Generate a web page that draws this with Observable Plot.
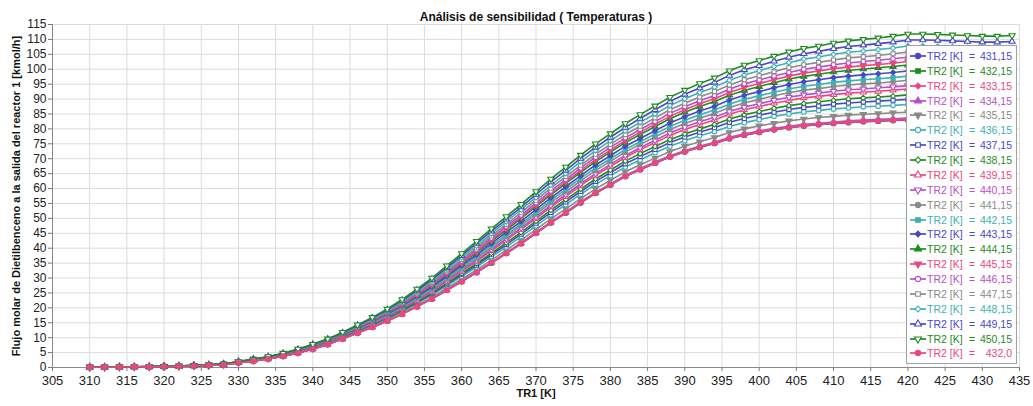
<!DOCTYPE html>
<html><head><meta charset="utf-8">
<script src="https://cdn.jsdelivr.net/npm/d3@7"></script>
<script src="https://cdn.jsdelivr.net/npm/@observablehq/plot@0.6"></script>
<style>
body{margin:0;background:#fff;font-family:"Liberation Sans",Arial,sans-serif;}
#wrap{position:relative;width:1033px;height:406px;overflow:hidden;}
#legend{position:absolute;left:906px;top:45px;width:111px;height:319px;border:1px solid #a0a0a0;background:#fff;box-sizing:border-box;}
.row{position:absolute;left:0;width:109px;height:14px;font-size:10.5px;line-height:14px;white-space:nowrap;}
.row svg{position:absolute;left:2px;top:1px;}
.row .k{position:absolute;left:20px;}
.row .eq{position:absolute;left:62px;}
.row .v{position:absolute;right:4px;}
</style></head><body><div id="wrap"></div>
<script>
const title = "Análisis de sensibilidad ( Temperaturas )";
const xLabel = "TR1 [K]";
const yLabel = "Flujo molar de Dietilbenceno a la salida del reactor 1 [kmol/h]";
const xTicks = [305,310,315,320,325,330,335,340,345,350,355,360,365,370,375,380,385,390,395,400,405,410,415,420,425,430,435];
const yTicks = [0,5,10,15,20,25,30,35,40,45,50,55,60,65,70,75,80,85,90,95,100,105,110,115];

const tr1 = [310,312,314,316,318,320,322,324,326,328,330,332,334,336,338,340,342,344,346,348,350,352,354,356,358,360,362,364,366,368,370,372,374,376,378,380,382,384,386,388,390,392,394,396,398,400,402,404,406,408,410,412,414,416,418,420,422,424,426,428,430,432,434];

const legendLabels = ["431,15","432,15","433,15","434,15","435,15","436,15","437,15","438,15","439,15","440,15","441,15","442,15","443,15","444,15","445,15","446,15","447,15","448,15","449,15","450,15","432,0"];

const s431_15 = [0.1,0.1,0.15,0.2,0.2,0.3,0.4,0.55,0.7,0.9, 1.6,2.2,2.9,3.8,4.9,6.2,7.7,9.6,11.6,13.5,15.6,17.9,20.4,23.0,25.9,28.8,31.8,35.0,38.2,41.5,45.0,48.5,51.8,55.2,58.4,61.2,64.0,66.3,68.5,70.6,72.3,73.8,75.1,76.7,77.9,78.8,79.7,80.4,81.0,81.4,81.8,82.1,82.4,82.6,82.8,83.0,83.0,82.9,82.8,82.7,82.6,82.5,82.4];
const s432_15 = [0.1,0.1,0.15,0.2,0.2,0.3,0.4,0.55,0.7,0.9, 1.6,2.2,2.9,3.8,4.9,6.2,7.7,9.6,11.6,13.5,15.6,17.9,20.4,23.0,25.9,28.8,31.9,35.1,38.3,41.6,45.1,48.6,51.9,55.3,58.5,61.3,64.1,66.4,68.6,70.7,72.4,73.9,75.2,76.8,78.0,78.9,79.8,80.5,81.1,81.5,81.9,82.2,82.5,82.7,82.9,83.1,83.1,83.0,82.9,82.8,82.7,82.6,82.5];
const s433_15 = [0.1,0.1,0.15,0.2,0.2,0.3,0.4,0.55,0.7,0.9, 1.6,2.2,2.9,3.8,4.9,6.2,7.7,9.6,11.6,13.5,15.6,18.0,20.5,23.1,26.0,28.9,31.9,35.1,38.3,41.6,45.1,48.6,52.0,55.4,58.6,61.4,64.2,66.5,68.7,70.8,72.5,74.0,75.3,76.9,78.1,79.0,79.9,80.7,81.3,81.7,82.1,82.4,82.7,82.9,83.1,83.3,83.3,83.2,83.1,83.0,82.9,82.8,82.7];
const s434_15 = [0.1,0.1,0.15,0.2,0.2,0.3,0.4,0.55,0.7,0.9, 1.6,2.2,2.9,3.8,4.9,6.2,7.7,9.6,11.7,13.6,15.7,18.0,20.5,23.1,26.1,29.0,32.0,35.2,38.4,41.8,45.3,48.8,52.1,55.5,58.7,61.5,64.4,66.7,68.9,71.0,72.7,74.2,75.5,77.2,78.4,79.3,80.2,80.9,81.5,81.9,82.3,82.7,83.0,83.2,83.4,83.6,83.6,83.5,83.4,83.3,83.2,83.1,83.0];
const s435_15 = [0.1,0.1,0.15,0.2,0.2,0.3,0.4,0.55,0.7,0.9, 1.6,2.3,3.0,3.9,5.0,6.3,7.9,9.8,11.8,13.8,16.0,18.3,20.9,23.6,26.6,29.6,32.7,36.0,39.3,42.7,46.3,49.8,53.2,56.6,59.9,62.8,65.6,68.0,70.2,72.4,74.2,75.7,77.1,78.8,80.0,81.0,81.9,82.7,83.3,83.8,84.2,84.6,84.9,85.1,85.4,85.6,85.6,85.5,85.4,85.3,85.2,85.1,85.0];
const s436_15 = [0.1,0.1,0.15,0.2,0.2,0.3,0.4,0.55,0.7,0.9, 1.7,2.3,3.0,4.0,5.1,6.5,8.0,10.0,12.1,14.1,16.3,18.8,21.5,24.3,27.4,30.5,33.7,37.1,40.4,43.9,47.5,51.2,54.6,58.1,61.4,64.3,67.2,69.6,72.0,74.2,76.0,77.7,79.1,80.8,82.1,83.1,84.2,85.0,85.7,86.2,86.7,87.0,87.4,87.6,87.9,88.2,88.2,88.1,88.0,87.9,87.7,87.7,87.6];
const s437_15 = [0.1,0.1,0.15,0.2,0.2,0.3,0.4,0.55,0.7,0.9, 1.7,2.3,3.1,4.0,5.2,6.6,8.2,10.1,12.3,14.3,16.6,19.1,21.8,24.7,27.9,31.1,34.3,37.8,41.2,44.7,48.4,52.0,55.5,59.0,62.4,65.3,68.3,70.7,73.1,75.4,77.3,78.9,80.4,82.2,83.5,84.6,85.6,86.5,87.2,87.7,88.3,88.7,89.0,89.3,89.6,89.9,89.9,89.8,89.7,89.6,89.4,89.4,89.3];
const s438_15 = [0.1,0.1,0.15,0.2,0.2,0.3,0.4,0.55,0.7,0.9, 1.7,2.4,3.1,4.1,5.3,6.7,8.3,10.2,12.4,14.5,16.8,19.3,22.1,25.0,28.3,31.5,34.8,38.3,41.8,45.3,49.1,52.8,56.3,59.8,63.2,66.2,69.2,71.7,74.1,76.4,78.3,80.0,81.5,83.3,84.7,85.8,86.9,87.8,88.5,89.1,89.6,90.1,90.4,90.7,91.0,91.4,91.4,91.3,91.1,91.0,90.9,90.8,90.8];
const s439_15 = [0.1,0.15,0.2,0.2,0.25,0.35,0.45,0.6,0.8,1.05, 1.7,2.4,3.2,4.2,5.4,6.8,8.4,10.4,12.6,14.7,17.0,19.7,22.5,25.5,28.9,32.2,35.6,39.1,42.7,46.3,50.0,53.8,57.3,61.0,64.4,67.4,70.4,73.0,75.4,77.8,79.8,81.5,83.0,84.9,86.4,87.5,88.6,89.5,90.4,90.9,91.5,92.0,92.3,92.6,93.0,93.4,93.4,93.3,93.1,93.0,92.9,92.8,92.8];
const s440_15 = [0.1,0.15,0.2,0.2,0.25,0.35,0.45,0.6,0.8,1.05, 1.8,2.4,3.2,4.2,5.4,6.8,8.5,10.5,12.7,14.8,17.2,19.9,22.8,25.8,29.2,32.6,36.0,39.6,43.2,46.8,50.6,54.4,58.0,61.6,65.0,68.1,71.1,73.7,76.2,78.6,80.6,82.4,83.9,85.8,87.3,88.4,89.6,90.6,91.4,92.0,92.6,93.1,93.4,93.8,94.1,94.5,94.5,94.4,94.3,94.1,94.0,93.9,94.0];
const s441_15 = [0.1,0.15,0.2,0.2,0.25,0.35,0.45,0.6,0.8,1.05, 1.8,2.5,3.3,4.3,5.5,6.9,8.6,10.6,12.8,15.0,17.4,20.2,23.1,26.2,29.7,33.1,36.6,40.3,43.9,47.6,51.4,55.3,58.9,62.6,66.0,69.1,72.2,74.8,77.3,79.8,81.8,83.6,85.2,87.2,88.7,89.9,91.1,92.1,93.0,93.5,94.2,94.7,95.1,95.4,95.8,96.3,96.3,96.2,96.0,95.9,95.7,95.7,95.7];
const s442_15 = [0.1,0.15,0.2,0.2,0.25,0.35,0.45,0.6,0.8,1.05, 1.8,2.5,3.3,4.3,5.6,7.0,8.7,10.7,13.0,15.2,17.6,20.4,23.4,26.6,30.1,33.6,37.2,40.9,44.5,48.2,52.1,56.0,59.7,63.4,66.9,70.0,73.1,75.7,78.3,80.8,82.9,84.7,86.3,88.3,89.9,91.1,92.3,93.4,94.3,94.9,95.6,96.1,96.5,96.8,97.2,97.7,97.7,97.6,97.4,97.3,97.1,97.1,97.1];
const s443_15 = [0.1,0.15,0.2,0.2,0.25,0.35,0.45,0.6,0.8,1.05, 1.8,2.5,3.4,4.4,5.6,7.1,8.8,10.9,13.1,15.4,17.9,20.7,23.8,27.0,30.6,34.2,37.8,41.6,45.3,49.0,53.0,56.9,60.6,64.3,67.9,71.0,74.2,76.8,79.4,82.0,84.1,86.0,87.6,89.7,91.3,92.5,93.8,94.9,95.8,96.5,97.2,97.7,98.1,98.5,98.9,99.4,99.4,99.3,99.2,99.0,98.8,98.8,98.9];
const s444_15 = [0.1,0.15,0.2,0.2,0.25,0.35,0.45,0.6,0.8,1.05, 1.9,2.6,3.4,4.4,5.7,7.2,8.9,11.0,13.3,15.6,18.2,21.0,24.2,27.5,31.2,34.8,38.5,42.4,46.1,50.0,54.0,57.9,61.7,65.4,69.0,72.2,75.4,78.1,80.8,83.4,85.6,87.5,89.2,91.3,92.9,94.2,95.5,96.7,97.6,98.3,99.1,99.6,100.1,100.5,100.9,101.4,101.4,101.3,101.2,101.0,100.8,100.8,100.9];
const s445_15 = [0.1,0.15,0.2,0.2,0.25,0.35,0.45,0.6,0.8,1.05, 1.9,2.6,3.4,4.5,5.8,7.3,9.0,11.1,13.4,15.7,18.3,21.2,24.4,27.8,31.5,35.2,38.9,42.8,46.6,50.5,54.5,58.5,62.3,66.1,69.7,72.9,76.1,78.9,81.6,84.2,86.4,88.4,90.1,92.2,93.9,95.2,96.5,97.7,98.7,99.4,100.2,100.7,101.2,101.6,102.0,102.6,102.6,102.5,102.3,102.1,102.0,102.0,102.1];
const s446_15 = [0.1,0.15,0.2,0.25,0.3,0.4,0.5,0.7,0.9,1.2, 1.9,2.6,3.5,4.5,5.9,7.4,9.1,11.2,13.6,15.9,18.5,21.5,24.7,28.1,31.9,35.7,39.5,43.4,47.3,51.1,55.2,59.2,63.0,66.9,70.5,73.8,77.0,79.8,82.5,85.2,87.4,89.4,91.2,93.3,95.1,96.4,97.7,98.9,100.0,100.7,101.5,102.1,102.6,103.0,103.5,104.0,104.0,103.9,103.8,103.6,103.4,103.4,103.5];
const s447_15 = [0.1,0.15,0.2,0.25,0.3,0.4,0.5,0.7,0.9,1.2, 1.9,2.7,3.5,4.6,5.9,7.5,9.2,11.3,13.7,16.1,18.8,21.8,25.1,28.5,32.4,36.2,40.1,44.1,48.0,51.9,56.1,60.1,64.0,67.8,71.5,74.8,78.1,80.9,83.7,86.4,88.6,90.7,92.5,94.7,96.5,97.8,99.2,100.5,101.5,102.3,103.1,103.8,104.2,104.6,105.2,105.8,105.8,105.7,105.5,105.3,105.1,105.1,105.2];
const s448_15 = [0.1,0.15,0.2,0.25,0.3,0.4,0.5,0.7,0.9,1.2, 1.9,2.7,3.6,4.7,6.0,7.6,9.3,11.5,13.9,16.3,19.0,22.1,25.5,29.0,33.0,36.9,40.8,44.9,48.9,52.9,57.0,61.1,65.0,69.0,72.7,76.0,79.3,82.2,85.0,87.8,90.1,92.2,94.0,96.3,98.1,99.5,100.9,102.2,103.4,104.1,105.0,105.7,106.1,106.6,107.1,107.8,107.8,107.7,107.5,107.3,107.1,107.1,107.3];
const s449_15 = [0.1,0.15,0.2,0.25,0.3,0.4,0.5,0.7,0.9,1.2, 2.0,2.8,3.6,4.7,6.1,7.7,9.5,11.6,14.1,16.6,19.3,22.5,25.9,29.5,33.5,37.5,41.6,45.7,49.7,53.8,58.0,62.2,66.1,70.1,73.8,77.2,80.5,83.5,86.4,89.2,91.6,93.7,95.6,97.9,99.8,101.2,102.7,104.0,105.2,106.0,106.9,107.6,108.1,108.6,109.1,109.8,109.8,109.7,109.5,109.3,109.1,109.1,109.3];
const s450_15 = [0.1,0.15,0.2,0.25,0.3,0.4,0.5,0.7,0.9,1.2, 2.0,2.8,3.7,4.8,6.2,7.8,9.6,11.8,14.3,16.8,19.6,22.8,26.3,30.0,34.1,38.2,42.3,46.5,50.6,54.7,59.0,63.2,67.2,71.2,75.0,78.4,81.8,84.8,87.7,90.6,93.0,95.2,97.1,99.5,101.4,102.9,104.4,105.8,107.0,107.8,108.8,109.5,110.0,110.5,111.1,111.8,111.8,111.7,111.5,111.3,111.1,111.1,111.3];
const s432_0 = [0.1,0.1,0.15,0.2,0.2,0.3,0.4,0.55,0.7,0.9, 1.6,2.2,2.9,3.8,4.9,6.2,7.7,9.6,11.6,13.5,15.6,17.9,20.4,23.0,25.9,28.8,31.9,35.1,38.3,41.6,45.1,48.6,51.9,55.3,58.5,61.3,64.1,66.4,68.6,70.7,72.4,73.9,75.2,76.8,78.0,78.9,79.8,80.5,81.1,81.5,81.9,82.2,82.5,82.7,82.9,83.1,83.1,83.0,82.9,82.8,82.7,82.6,82.5];

const seriesValues = [s431_15,s432_15,s433_15,s434_15,s435_15,s436_15,s437_15,s438_15,s439_15,s440_15,s441_15,s442_15,s443_15,s444_15,s445_15,s446_15,s447_15,s448_15,s449_15,s450_15,s432_0];

// styles
const palette = ["#4848c8","#1f8c1f","#ee467c","#b84fca","#8a8a8a","#3fb1b4"];
const sqrt3 = Math.sqrt(3);
const triDown = {draw(ctx, size){ const y = -Math.sqrt(size/(sqrt3*3)); ctx.moveTo(0,-y*2); ctx.lineTo(-sqrt3*y, y); ctx.lineTo(sqrt3*y, y); ctx.closePath(); }};
const shapes = [d3.symbolCircle, d3.symbolSquare, d3.symbolDiamond2, d3.symbolTriangle, triDown];
function styleOf(i){
  const k = i % 10;
  return {color: palette[i % 6], shape: shapes[k % 5], filled: k < 5};
}

const marks = [
  Plot.gridX(xTicks, {stroke:"#dcdcdc", strokeOpacity:1}),
  Plot.gridY(yTicks, {stroke:"#dcdcdc", strokeOpacity:1}),
  Plot.axisX(xTicks, {tickSize:4, tickPadding:4, fontSize:13, label:null, tickFormat:d=>String(d), stroke:"#777"}),
  Plot.axisY(yTicks, {tickSize:4, tickPadding:2, fontSize:12, label:null, tickFormat:d=>String(d), stroke:"#777"}),
  Plot.ruleX([305], {stroke:"#8a8a8a"}),
  Plot.ruleY([0], {stroke:"#8a8a8a"})
];
seriesValues.forEach((vals, i) => {
  const st = styleOf(i);
  const data = tr1.map((x, j) => ({x, y: vals[j]}));
  marks.push(Plot.line(data, {x:"x", y:"y", stroke: st.color, strokeWidth:1.6}));
  marks.push(Plot.dot(data, {x:"x", y:"y", symbol: st.shape, r:2.3, fill: st.filled ? st.color : "#fff", stroke: st.color, strokeWidth:1.1}));
});
marks.push(Plot.text([title], {frameAnchor:"top", dy:-12, fontWeight:"bold", fontSize:12, fill:"#111"}));
marks.push(Plot.text([xLabel], {frameAnchor:"bottom", dy:29, fontWeight:"bold", fontSize:11, fill:"#111"}));
marks.push(Plot.text([yLabel], {frameAnchor:"left", dx:-36, rotate:-90, textAnchor:"middle", fontWeight:"bold", fontSize:11, fill:"#111"}));

const chart = Plot.plot({
  width:1033, height:406,
  marginLeft:52, marginRight:14, marginTop:24, marginBottom:39,
  style:{fontFamily:"'Liberation Sans', Arial, sans-serif", color:"#222", background:"#fff", overflow:"visible"},
  x:{domain:[305,435]},
  y:{domain:[0,115]},
  marks
});
const wrap = document.getElementById("wrap");
wrap.appendChild(chart);

// legend overlay
const legend = document.createElement("div");
legend.id = "legend";
wrap.appendChild(legend);
legendLabels.forEach((lab, i) => {
  const st = styleOf(i);
  const row = document.createElement("div");
  row.className = "row";
  row.style.top = (3 + i * 14.87) + "px";
  row.style.color = st.color;
  const size = Math.PI * 2.6 * 2.6;
  const path = d3.symbol(st.shape, size)();
  row.innerHTML = `<svg width="18" height="12"><line x1="1" x2="17" y1="6" y2="6" stroke="${st.color}" stroke-width="1.7"/><path d="${path}" transform="translate(9,6)" fill="${st.filled ? st.color : '#fff'}" stroke="${st.color}" stroke-width="1.1"/></svg><span class="k">TR2 [K]</span><span class="eq">=</span><span class="v">${lab}</span>`;
  legend.appendChild(row);
});
</script></body></html>
